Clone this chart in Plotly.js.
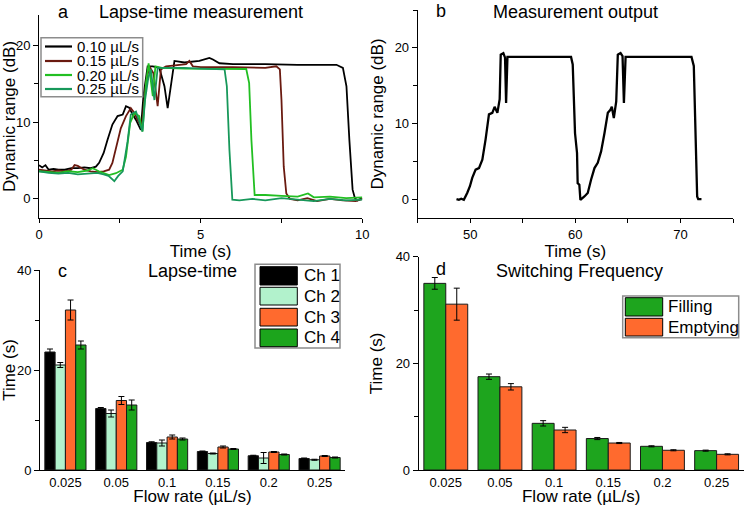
<!DOCTYPE html>
<html><head><meta charset="utf-8">
<script src="https://cdn.plot.ly/plotly-3.0.1.min.js"></script>
<style>html,body{margin:0;padding:0;background:#fff}#chart{width:745px;height:506px}</style>
</head><body><div id="chart"></div>
<script>
// ---------- Panel a: lapse-time measurement ----------
const aTime010 = [0,0.1,0.2,0.3,0.45,0.6,0.8,1.0,1.2,1.4,1.6,1.76,1.86,2.0,2.12,2.27,2.43,2.59,2.69,2.79,2.9,3.0,3.15,3.23,3.36,3.52,3.72,3.88,3.98,4.08,4.19,4.5,4.96,5.27,5.38,5.58,6.0,7.0,8.0,9.0,9.2,9.4,9.51,9.6,9.7,9.77,9.85,10];
const aRange010 = [4.4,4.1,4.4,3.8,3.9,3.8,3.8,4.0,4.0,4.1,4.0,4.2,4.7,6.0,7.7,9.7,10.8,11.0,12.1,11.9,11.0,10.3,9.0,13.4,17.3,17.3,17.1,14.7,11.85,15.1,18.0,17.8,18.0,18.4,18.2,17.7,17.6,17.6,17.5,17.5,17.5,17.1,14.7,7.7,1.2,0.1,-0.2,0.1];
const aTime015 = [0,0.2,0.4,0.6,0.8,1.0,1.1,1.2,1.4,1.6,1.8,2.0,2.17,2.27,2.43,2.53,2.69,2.84,2.95,3.1,3.18,3.31,3.41,3.54,3.67,3.77,3.93,4.2,4.55,4.65,4.76,5.0,6.0,7.0,7.34,7.45,7.5,7.57,7.65,7.76,8.0,8.3,8.6,9.0,9.4,9.8,10];
const aRange015 = [3.8,3.7,3.6,3.7,3.6,3.8,4.4,4.3,3.8,3.6,3.5,3.6,3.8,4.7,7.3,9.2,10.8,11.85,11.2,9.9,9.45,15.1,17.3,16.4,12.1,16.9,17.3,17.4,17.6,18.0,17.3,17.2,17.2,17.1,17.3,16.9,12.9,4.2,0.7,0.0,-0.2,0.1,-0.3,0.0,-0.2,-0.3,0.0];
const aTime020 = [0,0.3,0.6,0.9,1.2,1.5,1.66,1.85,2.0,2.17,2.38,2.59,2.69,2.82,2.95,3.1,3.2,3.31,3.39,3.52,3.6,3.8,4.5,5.0,6.0,6.41,6.5,6.57,6.67,7.0,7.5,8.0,8.32,8.5,9.0,9.5,10];
const aRange020 = [3.6,3.5,3.4,3.6,3.5,3.7,4.0,3.6,3.4,3.1,3.35,3.8,5.5,9.9,11.2,10.8,8.8,15.1,17.7,13.4,17.3,17.1,17.0,17.0,17.0,16.95,15.1,7.7,0.5,0.5,0.4,0.3,0.7,0.2,0.3,0.1,0.2];
const aTime025 = [0,0.3,0.6,0.9,1.2,1.5,1.8,2.0,2.15,2.33,2.45,2.59,2.74,2.84,3.0,3.2,3.28,3.38,3.46,3.57,3.67,4.0,4.5,5.0,5.5,5.74,5.81,5.89,5.98,6.2,6.6,7.0,7.5,8.0,8.5,9.0,9.5,10];
const aRange025 = [3.6,3.4,3.3,3.4,3.2,3.3,3.4,3.2,3.0,2.3,3.0,3.6,7.5,11.0,11.4,8.8,12.9,15.8,16.9,12.9,17.1,17.1,17.1,17.0,16.9,16.9,14.7,6.4,-0.1,-0.2,0.0,-0.2,0.1,-0.1,-0.3,0.0,-0.2,-0.1];
const aLegendLabels = ["0.10 µL/s","0.15 µL/s","0.20 µL/s","0.25 µL/s"];

// ---------- Panel b: measurement output ----------
const bTime = [48.69,48.92,49.14,49.39,49.71,49.97,50.19,50.51,50.83,51.15,51.46,51.78,52.1,52.32,52.58,52.8,52.9,53.15,53.31,53.41,53.54,53.85,57.0,59.59,59.75,59.97,60.16,60.22,60.38,60.48,60.86,61.18,61.5,61.82,62.13,62.45,62.77,63.09,63.34,63.47,63.66,63.89,64.04,64.3,64.49,64.62,64.78,67.5,71.05,71.27,71.43,71.59,71.69,72.0];
const bRange = [0.0,-0.1,0.05,-0.1,0.8,1.7,2.8,3.9,4.1,5.2,7.9,11.2,11.4,12.2,11.4,13.2,19.1,19.3,18.7,12.7,18.8,18.8,18.8,18.8,17.8,8.7,6.1,2.1,1.9,-0.1,0.35,0.8,2.6,4.1,4.8,6.3,8.7,11.4,11.8,12.2,10.7,12.9,19.1,19.3,18.9,12.7,18.8,18.8,18.8,17.6,8.7,0.35,0.0,0.0];

// ---------- Panels c, d: bar charts ----------
const flowRates = ["0.025","0.05","0.1","0.15","0.2","0.25"];
const ch1Time = [23.6,12.3,5.5,3.7,2.85,2.3];
const ch1Err  = [0.6,0.2,0.15,0.1,0.1,0.1];
const ch2Time = [21.0,11.3,5.4,3.3,2.4,2.05];
const ch2Err  = [0.5,0.7,0.6,0.1,1.1,0.1];
const ch3Time = [32.0,13.9,6.6,4.6,3.6,2.8];
const ch3Err  = [2.0,0.8,0.4,0.2,0.1,0.1];
const ch4Time = [25.0,13.0,6.2,4.2,3.1,2.5];
const ch4Err  = [0.8,1.0,0.2,0.1,0.1,0.1];
const cLegendLabels = ["Ch 1","Ch 2","Ch 3","Ch 4"];
const fillTime  = [35.0,17.5,8.75,5.9,4.44,3.63];
const fillErr   = [1.1,0.5,0.5,0.2,0.1,0.1];
const emptyTime = [31.1,15.6,7.5,5.06,3.7,2.94];
const emptyErr  = [3.0,0.6,0.5,0.1,0.1,0.1];
const dLegendLabels = ["Filling","Emptying"];

// ---------- styling ----------
const W = 745, H = 506;
const FONT = "'Liberation Sans', Arial, Helvetica, sans-serif";
const px = v => v / W, py = v => 1 - v / H;
const lineColors = ["#000000","#6a1a10","#22bf22","#17985a"];
const chColors = ["#000000","#b2f2cc","#ff6a2e","#1ca51c"];
const fillColor = "#1ea51e", emptyColor = "#ff6a2e";

const aSeries = [[aTime010,aRange010],[aTime015,aRange015],[aTime020,aRange020],[aTime025,aRange025]];
const traces = [];
aSeries.forEach((s,i)=>traces.push({type:"scatter",mode:"lines",x:s[0],y:s[1],xaxis:"x",yaxis:"y",
  name:aLegendLabels[i],line:{color:lineColors[i],width:1.8}}));
traces.push({type:"scatter",mode:"lines",x:bTime,y:bRange,xaxis:"x2",yaxis:"y2",name:"output",
  line:{color:"#000",width:2.3}});
const chT=[ch1Time,ch2Time,ch3Time,ch4Time], chE=[ch1Err,ch2Err,ch3Err,ch4Err];
chT.forEach((v,i)=>traces.push({type:"bar",x:flowRates,y:v,xaxis:"x3",yaxis:"y3",name:cLegendLabels[i],
  marker:{color:chColors[i],line:{color:"#1a1a1a",width:1}},
  error_y:{type:"data",array:chE[i],color:"#000",thickness:1,width:3}}));
[[fillTime,fillErr,fillColor],[emptyTime,emptyErr,emptyColor]].forEach((s,i)=>traces.push({type:"bar",
  x:flowRates,y:s[0],xaxis:"x4",yaxis:"y4",name:dLegendLabels[i],
  marker:{color:s[2],line:{color:"#1a1a1a",width:1}},
  error_y:{type:"data",array:s[1],color:"#000",thickness:1,width:3}}));

const axBase = {showline:true,linecolor:"#000",linewidth:1,ticks:"outside",ticklen:5,tickcolor:"#000",
  tickwidth:1,showgrid:false,zeroline:false,tickfont:{size:13,color:"#000"},fixedrange:true};
const ttl = (t,s) => ({text:t,font:{size:17,color:"#000"},standoff:s});

const shapes = [], annotations = [];
// titles
const T = (x,y,t,anchor) => annotations.push({xref:"paper",yref:"paper",x:px(x),y:py(y),text:t,showarrow:false,
  xanchor:anchor||"center",yanchor:"middle",font:{size:18,color:"#000"}});
T(63,12,"a"); T(201,12,"Lapse-time measurement");
T(441,11,"b"); T(575,12,"Measurement output");
T(62.5,271,"c"); T(192.5,271,"Lapse-time");
T(441,269,"d"); T(579,271,"Switching Frequency");

// legend a
shapes.push({type:"rect",xref:"paper",yref:"paper",x0:px(41),x1:px(142.7),y0:py(96.7),y1:py(37.7),
  line:{color:"#8c8c8c",width:1.5},fillcolor:"#fff",layer:"above"});
[46.5,61,75,89].forEach((y,i)=>{
  shapes.push({type:"line",xref:"paper",yref:"paper",x0:px(45),x1:px(72),y0:py(y),y1:py(y),
    line:{color:lineColors[i],width:2.2},layer:"above"});
  annotations.push({xref:"paper",yref:"paper",x:px(75),y:py(y),text:aLegendLabels[i],showarrow:false,
    xanchor:"left",yanchor:"middle",font:{size:15,color:"#000"}});
});
// legend c
shapes.push({type:"rect",xref:"paper",yref:"paper",x0:px(255),x1:px(340),y0:py(348),y1:py(264.3),
  line:{color:"#8c8c8c",width:1.5},fillcolor:"#fff",layer:"above"});
[[266.7,285],[287.3,305],[308.3,326],[329,346.7]].forEach((r,i)=>{
  shapes.push({type:"rect",xref:"paper",yref:"paper",x0:px(260),x1:px(297.3),y0:py(r[1]),y1:py(r[0]),
    line:{color:"#000",width:1},fillcolor:chColors[i],layer:"above"});
  annotations.push({xref:"paper",yref:"paper",x:px(301.7),y:py((r[0]+r[1])/2),text:cLegendLabels[i],showarrow:false,
    xanchor:"left",yanchor:"middle",font:{size:17,color:"#000"}});
});
// legend d
shapes.push({type:"rect",xref:"paper",yref:"paper",x0:px(622.7),x1:px(738.7),y0:py(337.8),y1:py(296),
  line:{color:"#8c8c8c",width:1.5},fillcolor:"#fff",layer:"above"});
[[297.7,316],[318.3,336]].forEach((r,i)=>{
  shapes.push({type:"rect",xref:"paper",yref:"paper",x0:px(625.3),x1:px(662.7),y0:py(r[1]),y1:py(r[0]),
    line:{color:"#000",width:1},fillcolor:i===0?fillColor:emptyColor,layer:"above"});
  annotations.push({xref:"paper",yref:"paper",x:px(666),y:py((r[0]+r[1])/2),text:dLegendLabels[i],showarrow:false,
    xanchor:"left",yanchor:"middle",font:{size:17,color:"#000"}});
});

const layout = {
  width:W,height:H,margin:{l:0,r:0,t:0,b:0},paper_bgcolor:"#fff",plot_bgcolor:"rgba(0,0,0,0)",
  showlegend:false,font:{family:FONT,color:"#000"},barmode:"group",bargap:0.19,bargroupgap:0,
  xaxis:Object.assign({},axBase,{domain:[px(39),px(362.3)],range:[0,10],dtick:5,tick0:0,anchor:"y",ticklen:4,
    minor:{dtick:2.5,ticks:"outside",ticklen:4,tickcolor:"#000"},title:ttl("Time (s)",0)}),
  yaxis:Object.assign({},axBase,{domain:[py(218),py(15)],range:[-2.5,24],dtick:10,tick0:0,anchor:"x",
    minor:{dtick:5,ticks:"outside",ticklen:4,tickcolor:"#000"},title:ttl("Dynamic range (dB)",6)}),
  xaxis2:Object.assign({},axBase,{domain:[px(417.7),px(733)],range:[45,75],dtick:10,tick0:50,anchor:"y2",ticklen:4,
    minor:{dtick:5,ticks:"outside",ticklen:4,tickcolor:"#000"},title:ttl("Time (s)",0)}),
  yaxis2:Object.assign({},axBase,{domain:[py(218),py(10)],range:[-2.5,25],dtick:10,tick0:0,anchor:"x2",
    minor:{dtick:5,ticks:"outside",ticklen:4,tickcolor:"#000"},title:ttl("Dynamic range (dB)",6)}),
  xaxis3:Object.assign({},axBase,{domain:[px(40),px(345)],type:"category",range:[-0.5,5.5],ticks:"",anchor:"y3",
    title:ttl("Flow rate (µL/s)",4)}),
  yaxis3:Object.assign({},axBase,{domain:[py(470),py(270)],range:[0,40],dtick:20,tick0:0,anchor:"x3",
    minor:{dtick:10,ticks:"outside",ticklen:4,tickcolor:"#000"},title:ttl("Time (s)",8)}),
  xaxis4:Object.assign({},axBase,{domain:[px(418.7),px(743.7)],type:"category",range:[-0.5,5.5],ticks:"",anchor:"y4",
    title:ttl("Flow rate (µL/s)",4)}),
  yaxis4:Object.assign({},axBase,{domain:[py(470),py(256.7)],range:[0,40],dtick:20,tick0:0,anchor:"x4",
    minor:{dtick:10,ticks:"outside",ticklen:4,tickcolor:"#000"},title:ttl("Time (s)",8)}),
  shapes:shapes,annotations:annotations
};
Plotly.newPlot("chart",traces,layout,{staticPlot:true,displayModeBar:false});
</script></body></html>
